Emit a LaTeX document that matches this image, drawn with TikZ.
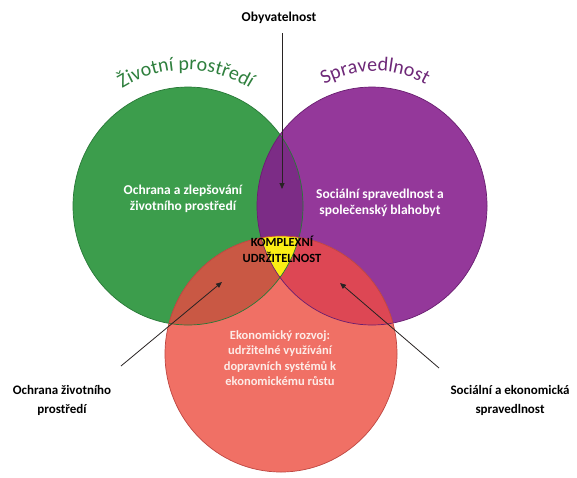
\documentclass[tikz,border=0pt]{standalone}
\usepackage{fontspec}
\setmainfont{Carlito}
\usetikzlibrary{arrows.meta,decorations.text}
\definecolor{cgreen}{RGB}{60,157,76}
\definecolor{cgreenD}{RGB}{40,120,55}
\definecolor{cpurple}{RGB}{148,56,154}
\definecolor{cpurpleD}{RGB}{105,30,112}
\definecolor{cred}{RGB}{240,112,101}
\definecolor{credD}{RGB}{190,70,65}
\definecolor{lensGP}{RGB}{124,44,134}
\definecolor{lensGR}{RGB}{201,88,68}
\definecolor{lensPR}{RGB}{221,71,84}
\definecolor{cyellow}{RGB}{250,238,20}
\definecolor{tgreen}{RGB}{47,128,62}
\definecolor{tpurple}{RGB}{110,40,120}
\definecolor{linec}{RGB}{40,35,35}
\definecolor{redtext}{RGB}{253,236,232}
\begin{document}
\begin{tikzpicture}[x=1pt,y=-1pt,
  intext/.style={align=center,inner sep=0pt,text=white,font=\bfseries\fontsize{13.5}{16}\selectfont},
  outtext/.style={align=center,inner sep=0pt,text=black,font=\bfseries\fontsize{13}{19}\selectfont},
  leader/.style={draw=linec,line width=0.8pt,-{Triangle[length=6pt,width=5pt]}}]
\useasboundingbox (0,0) rectangle (577,477);
\fill[white] (0,0) rectangle (577,477);
% circles
\fill[cgreen] (188,206) ellipse [x radius=115, y radius=119];
\fill[cpurple] (372,206) ellipse [x radius=115, y radius=119];
\fill[cred] (281,354) ellipse [x radius=116, y radius=118];
% lenses
\begin{scope}
  \clip (188,206) ellipse [x radius=115, y radius=119];
  \fill[lensGP] (372,206) ellipse [x radius=115, y radius=119];
  \fill[lensGR] (281,354) ellipse [x radius=116, y radius=118];
\end{scope}
\begin{scope}
  \clip (372,206) ellipse [x radius=115, y radius=119];
  \fill[lensPR] (281,354) ellipse [x radius=116, y radius=118];
\end{scope}
\begin{scope}
  \clip (188,206) ellipse [x radius=115, y radius=119];
  \clip (372,206) ellipse [x radius=115, y radius=119];
  \fill[cyellow] (281,354) ellipse [x radius=116, y radius=118];
\end{scope}
% outlines
\draw[cgreenD,line width=0.7pt] (188,206) ellipse [x radius=115, y radius=119];
\draw[cpurpleD,line width=0.7pt] (372,206) ellipse [x radius=115, y radius=119];
\draw[credD,line width=0.7pt] (281,354) ellipse [x radius=116, y radius=118];
% curved titles
\path[decorate,decoration={text along path,text align=center,
  text={|\color{tgreen}\fontsize{20}{20}\selectfont|Životní prostředí}}]
  (186,190) ++(205:120) arc[start angle=205,end angle=335,radius=120];
\path[decorate,decoration={text along path,text align=center,
  text={|\color{tpurple}\fontsize{20}{20}\selectfont|Spravedlnost}}]
  (375,174) ++(210:103) arc[start angle=210,end angle=330,radius=103];
% texts
\node[intext] (env) at (183,199) {Ochrana a zlepšování\\životního prostředí};
\node[intext] (soc) at (380,203) {Sociální spravedlnost a\\společenský blahobyt};
\node[intext,text=redtext,font=\bfseries\fontsize{12.5}{15.5}\selectfont] (eco) at (280,358)
  {Ekonomický rozvoj:\\udržitelné využívání\\dopravních systémů k\\ekonomickému růstu};
\node[outtext,font=\bfseries\fontsize{12.5}{16}\selectfont] (kompl) at (282,249)
  {KOMPLEXNÍ\\UDRŽITELNOST};
\node[outtext,font=\bfseries\fontsize{13.5}{16}\selectfont] (obyv) at (279,18) {Obyvatelnost};
\node[outtext] (ochr) at (62,400) {Ochrana životního\\prostředí};
\node[outtext] (sea) at (510,400) {Sociální a ekonomická\\spravedlnost};
% connectors
\coordinate (topstart) at (282,33);
\coordinate (toptip) at (282,189);
\coordinate (lstart) at (121,366);
\coordinate (ltip) at (222,282);
\coordinate (rstart) at (439,368);
\coordinate (rtip) at (340,283);
\draw[leader] (topstart) -- (toptip);
\draw[leader] (lstart) -- (ltip);
\draw[leader] (rstart) -- (rtip);
\end{tikzpicture}
\end{document}
